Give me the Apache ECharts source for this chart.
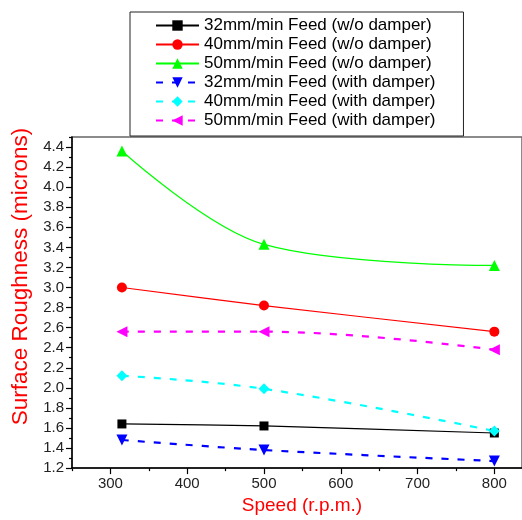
<!DOCTYPE html>
<html>
<head>
<meta charset="utf-8">
<script src="https://cdn.jsdelivr.net/npm/echarts@6/dist/echarts.min.js"></script>
<style>
  html, body { margin: 0; padding: 0; background: #fff; }
  #chart { width: 522px; height: 520px; }
</style>
</head>
<body>
<div id="chart"></div>
<script>
// spindle speeds (r.p.m.)
var speeds = [315, 500, 800];

// surface roughness (microns)
var feed32NoDamper = [1.64, 1.62, 1.55];
var feed40NoDamper = [3.00, 2.82, 2.56];
var feed50NoDamper = [4.36, 3.43, 3.22];
var feed32Damper = [1.48, 1.38, 1.27];
var feed40Damper = [2.12, 1.99, 1.57];
var feed50Damper = [2.56, 2.56, 2.38];

var seriesNames = [
    '32mm/min Feed (w/o damper)',
    '40mm/min Feed (w/o damper)',
    '50mm/min Feed (w/o damper)',
    '32mm/min Feed (with damper)',
    '40mm/min Feed (with damper)',
    '50mm/min Feed (with damper)'
];

// tick labels
var xTicks = [300, 400, 500, 600, 700, 800];
var xMinorTicks = [250, 350, 450, 550, 650, 750];
var yTicks = [1.2, 1.4, 1.6, 1.8, 2.0, 2.2, 2.4, 2.6, 2.8, 3.0, 3.2, 3.4, 3.6, 3.8, 4.0, 4.2, 4.4];
var yMinorTicks = [1.3, 1.5, 1.7, 1.9, 2.1, 2.3, 2.5, 2.7, 2.9, 3.1, 3.3, 3.5, 3.7, 3.9, 4.1, 4.3, 4.5];

function pairs(ys) {
    var out = [];
    for (var i = 0; i < speeds.length; i++) {
        out.push([speeds[i], ys[i]]);
    }
    return out;
}

var FONT = '"Liberation Sans", Arial, sans-serif';

function makeSeries(name, ys, color, symbol, rotate, size, dashed, smooth) {
    return {
        name: name,
        type: 'line',
        data: pairs(ys),
        smooth: smooth,
        symbol: symbol,
        symbolRotate: rotate,
        symbolSize: size,
        xAxisIndex: 0,
        yAxisIndex: 0,
        itemStyle: { color: color },
        lineStyle: dashed
            ? { color: color, width: 2.2, type: [7, 9] }
            : { color: color, width: 1.2, type: 'solid' },
        emphasis: { disabled: true }
    };
}

var myChart = echarts.init(document.getElementById('chart'));

var options = {
    backgroundColor: '#fff',
    animation: false,
    textStyle: { fontFamily: FONT },
    grid: {
        left: 72,
        right: 0,
        top: 137,
        bottom: 49,
        containLabel: false,
        show: true,
        borderColor: '#666',
        borderWidth: 1.5
    },
    legend: {
        orient: 'vertical',
        left: 130,
        top: 12,
        padding: [4, 28, 6, 25],
        itemWidth: 43,
        itemHeight: 13,
        itemGap: 0,
        backgroundColor: '#fff',
        borderColor: '#222',
        borderWidth: 1,
        textStyle: { fontFamily: FONT, fontSize: 17, lineHeight: 19, color: '#000' },
        data: seriesNames
    },
    xAxis: [{
        type: 'value',
        min: 250,
        max: 836,
        name: 'Speed (r.p.m.)',
        nameLocation: 'middle',
        nameGap: 27,
        nameTextStyle: { color: '#ff0000', fontSize: 19, fontFamily: FONT, padding: [0, 0, 0, 10] },
        axisLine: { show: true, lineStyle: { color: '#000', width: 1.5 } },
        axisTick: { show: true, inside: false, length: 6, customValues: xTicks,
            lineStyle: { color: '#000', width: 1.2 } },
        axisLabel: { customValues: xTicks, margin: 8, fontSize: 15, color: '#222', fontFamily: FONT },
        splitLine: { show: false }
    }, {
        type: 'value',
        min: 250,
        max: 836,
        position: 'bottom',
        axisLine: { show: false },
        axisTick: { show: true, length: 3, customValues: xMinorTicks,
            lineStyle: { color: '#000', width: 1.2 } },
        axisLabel: { show: false },
        splitLine: { show: false }
    }],
    yAxis: [{
        type: 'value',
        min: 1.2,
        max: 4.5,
        name: 'Surface Roughness (microns)',
        nameLocation: 'middle',
        nameGap: 39,
        nameTextStyle: { color: '#ff0000', fontSize: 22.5, fontFamily: FONT, padding: [0, 0, 0, 52] },
        axisLine: { show: true, lineStyle: { color: '#000', width: 1.5 } },
        axisTick: { show: true, length: 6, customValues: yTicks,
            lineStyle: { color: '#000', width: 1.2 } },
        axisLabel: {
            customValues: yTicks, margin: 8, fontSize: 15, color: '#222', fontFamily: FONT,
            formatter: function (v) { return v.toFixed(1); }
        },
        splitLine: { show: false }
    }, {
        type: 'value',
        min: 1.2,
        max: 4.5,
        position: 'left',
        axisLine: { show: false },
        axisTick: { show: true, length: 3, customValues: yMinorTicks,
            lineStyle: { color: '#000', width: 1.2 } },
        axisLabel: { show: false },
        splitLine: { show: false }
    }],
    series: [
        makeSeries(seriesNames[0], feed32NoDamper, '#000000', 'rect', 0, 9, false, 0.3),
        makeSeries(seriesNames[1], feed40NoDamper, '#ff0000', 'circle', 0, 10, false, 0.3),
        makeSeries(seriesNames[2], feed50NoDamper, '#00ff00', 'triangle', 0, 11, false, 0.35),
        makeSeries(seriesNames[3], feed32Damper, '#0000ff', 'triangle', 180, 11, true, 0.3),
        makeSeries(seriesNames[4], feed40Damper, '#00ffff', 'diamond', 0, 11, true, 0.4),
        makeSeries(seriesNames[5], feed50Damper, '#ff00ff', 'triangle', 90, 11, true, 0.4)
    ]
};
myChart.setOption(options, true);
</script>
</body>
</html>
